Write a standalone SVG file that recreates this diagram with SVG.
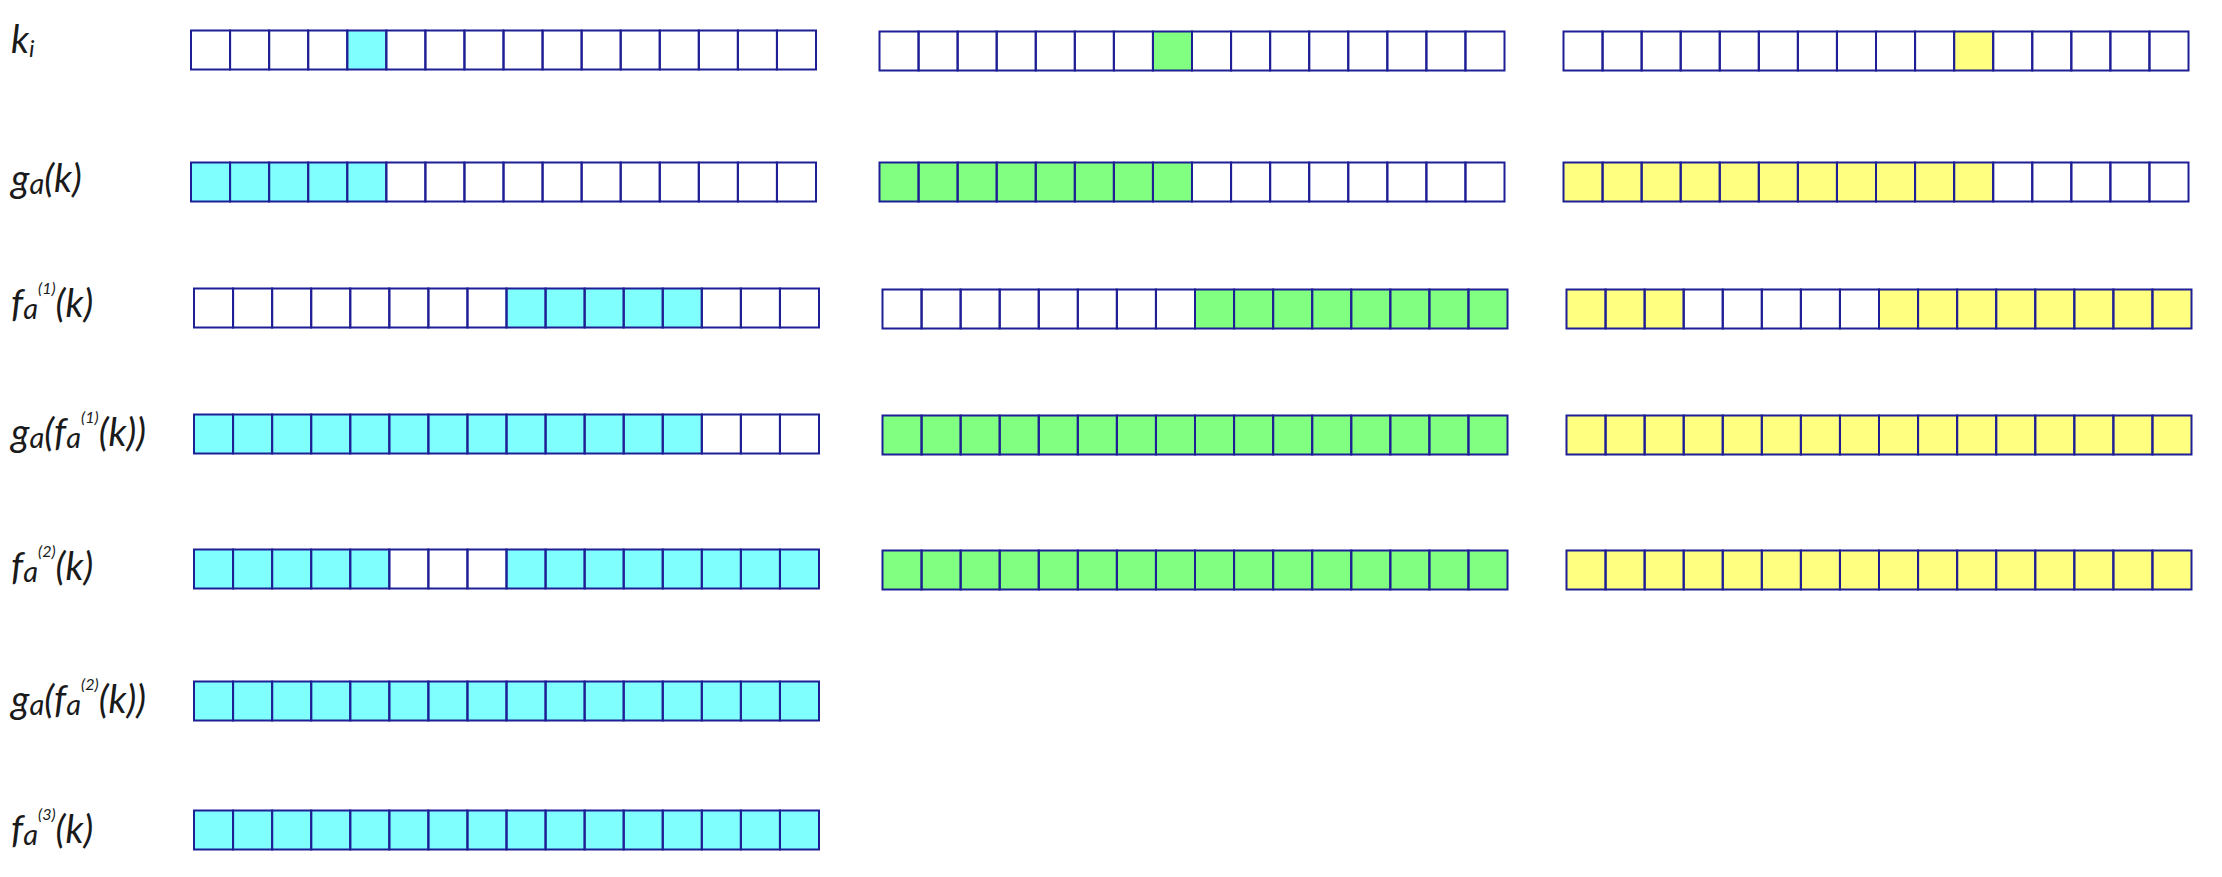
<svg xmlns="http://www.w3.org/2000/svg" xmlns:xlink="http://www.w3.org/1999/xlink" width="2222" height="877" viewBox="0 0 2222 877">
  <style>
    .lbl { font-family: Lato, "Open Sans", "Liberation Sans", sans-serif; font-style: italic; font-size: 38px; fill: #1a1a1a; }
    .sub { font-size: 29px; }
    .subi { font-size: 24px; }
    .sup { font-size: 16px; }
    .cell { fill: none; stroke: #1f1f95; stroke-width: 2; }
    .cy { fill: #80ffff; }
    .gr { fill: #80ff80; }
    .ye { fill: #ffff80; }
  </style>
  <defs>
    <g id="grid">
      <rect class="cell" x="0" y="0" width="39.0625" height="39"/>
      <rect class="cell" x="39.0625" y="0" width="39.0625" height="39"/>
      <rect class="cell" x="78.125" y="0" width="39.0625" height="39"/>
      <rect class="cell" x="117.1875" y="0" width="39.0625" height="39"/>
      <rect class="cell" x="156.25" y="0" width="39.0625" height="39"/>
      <rect class="cell" x="195.3125" y="0" width="39.0625" height="39"/>
      <rect class="cell" x="234.375" y="0" width="39.0625" height="39"/>
      <rect class="cell" x="273.4375" y="0" width="39.0625" height="39"/>
      <rect class="cell" x="312.5" y="0" width="39.0625" height="39"/>
      <rect class="cell" x="351.5625" y="0" width="39.0625" height="39"/>
      <rect class="cell" x="390.625" y="0" width="39.0625" height="39"/>
      <rect class="cell" x="429.6875" y="0" width="39.0625" height="39"/>
      <rect class="cell" x="468.75" y="0" width="39.0625" height="39"/>
      <rect class="cell" x="507.8125" y="0" width="39.0625" height="39"/>
      <rect class="cell" x="546.875" y="0" width="39.0625" height="39"/>
      <rect class="cell" x="585.9375" y="0" width="39.0625" height="39"/>
    </g>
  </defs>
  <rect x="0" y="0" width="2222" height="877" fill="#ffffff"/>

  <g id="labels">
    <text id="lbl-ki" class="lbl" x="11" y="53">k<tspan class="subi" dy="4">i</tspan></text>
    <text id="lbl-ga" class="lbl" x="11" y="192">g<tspan class="sub" dy="2">a</tspan><tspan dy="-2">(k)</tspan></text>
    <text id="lbl-f1" class="lbl" x="11" y="317">f<tspan class="sub" dy="2">a</tspan><tspan class="sup" dy="-25">(1)</tspan><tspan dy="23">(k)</tspan></text>
    <text id="lbl-gf1" class="lbl" x="11" y="446">g<tspan class="sub" dy="2">a</tspan><tspan dy="-2">(f</tspan><tspan class="sub" dy="2">a</tspan><tspan class="sup" dy="-25">(1)</tspan><tspan dy="23">(k))</tspan></text>
    <text id="lbl-f2" class="lbl" x="11" y="580">f<tspan class="sub" dy="2">a</tspan><tspan class="sup" dy="-25">(2)</tspan><tspan dy="23">(k)</tspan></text>
    <text id="lbl-gf2" class="lbl" x="11" y="713">g<tspan class="sub" dy="2">a</tspan><tspan dy="-2">(f</tspan><tspan class="sub" dy="2">a</tspan><tspan class="sup" dy="-25">(2)</tspan><tspan dy="23">(k))</tspan></text>
    <text id="lbl-f3" class="lbl" x="11" y="843">f<tspan class="sub" dy="2">a</tspan><tspan class="sup" dy="-25">(3)</tspan><tspan dy="23">(k)</tspan></text>
  </g>

  <!-- Column 1 (cyan) -->
  <g id="c1-r1">
    <rect class="cy" x="347.25" y="30.5" width="39.0625" height="39"/>
    <use href="#grid" xlink:href="#grid" x="191" y="30.5"/>
  </g>
  <g id="c1-r2">
    <rect class="cy" x="191" y="162.5" width="195.3125" height="39"/>
    <use href="#grid" xlink:href="#grid" x="191" y="162.5"/>
  </g>
  <g id="c1-r3">
    <rect class="cy" x="506.5" y="288.5" width="195.3125" height="39"/>
    <use href="#grid" xlink:href="#grid" x="194" y="288.5"/>
  </g>
  <g id="c1-r4">
    <rect class="cy" x="194" y="414.5" width="507.8125" height="39"/>
    <use href="#grid" xlink:href="#grid" x="194" y="414.5"/>
  </g>
  <g id="c1-r5">
    <rect class="cy" x="194" y="549.5" width="195.3125" height="39"/>
    <rect class="cy" x="506.5" y="549.5" width="312.5" height="39"/>
    <use href="#grid" xlink:href="#grid" x="194" y="549.5"/>
  </g>
  <g id="c1-r6">
    <rect class="cy" x="194" y="681.5" width="625" height="39"/>
    <use href="#grid" xlink:href="#grid" x="194" y="681.5"/>
  </g>
  <g id="c1-r7">
    <rect class="cy" x="194" y="810.5" width="625" height="39"/>
    <use href="#grid" xlink:href="#grid" x="194" y="810.5"/>
  </g>

  <!-- Column 2 (green) -->
  <g id="c2-r1">
    <rect class="gr" x="1152.9375" y="31.5" width="39.0625" height="39"/>
    <use href="#grid" xlink:href="#grid" x="879.5" y="31.5"/>
  </g>
  <g id="c2-r2">
    <rect class="gr" x="879.5" y="162.5" width="312.5" height="39"/>
    <use href="#grid" xlink:href="#grid" x="879.5" y="162.5"/>
  </g>
  <g id="c2-r3">
    <rect class="gr" x="1195" y="289.5" width="312.5" height="39"/>
    <use href="#grid" xlink:href="#grid" x="882.5" y="289.5"/>
  </g>
  <g id="c2-r4">
    <rect class="gr" x="882.5" y="415.5" width="625" height="39"/>
    <use href="#grid" xlink:href="#grid" x="882.5" y="415.5"/>
  </g>
  <g id="c2-r5">
    <rect class="gr" x="882.5" y="550.5" width="625" height="39"/>
    <use href="#grid" xlink:href="#grid" x="882.5" y="550.5"/>
  </g>

  <!-- Column 3 (yellow) -->
  <g id="c3-r1">
    <rect class="ye" x="1954.125" y="31.5" width="39.0625" height="39"/>
    <use href="#grid" xlink:href="#grid" x="1563.5" y="31.5"/>
  </g>
  <g id="c3-r2">
    <rect class="ye" x="1563.5" y="162.5" width="429.6875" height="39"/>
    <use href="#grid" xlink:href="#grid" x="1563.5" y="162.5"/>
  </g>
  <g id="c3-r3">
    <rect class="ye" x="1566.5" y="289.5" width="117.1875" height="39"/>
    <rect class="ye" x="1879" y="289.5" width="312.5" height="39"/>
    <use href="#grid" xlink:href="#grid" x="1566.5" y="289.5"/>
  </g>
  <g id="c3-r4">
    <rect class="ye" x="1566.5" y="415.5" width="625" height="39"/>
    <use href="#grid" xlink:href="#grid" x="1566.5" y="415.5"/>
  </g>
  <g id="c3-r5">
    <rect class="ye" x="1566.5" y="550.5" width="625" height="39"/>
    <use href="#grid" xlink:href="#grid" x="1566.5" y="550.5"/>
  </g>
</svg>
